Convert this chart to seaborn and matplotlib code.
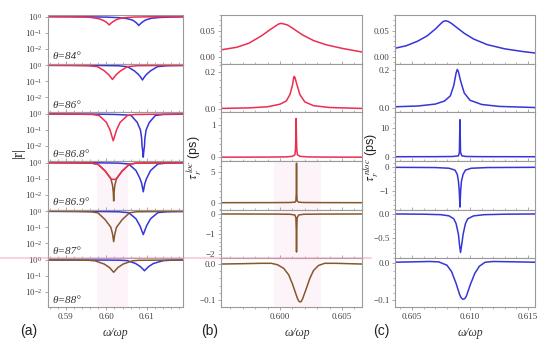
import matplotlib
matplotlib.use("Agg")
import matplotlib.pyplot as plt
from matplotlib.lines import Line2D
from matplotlib.ticker import (AutoMinorLocator, FixedLocator, FuncFormatter,
                               MultipleLocator, NullLocator)
import seaborn as sns

RED, BLUE, BROWN = "#ee2c50", "#3535d8", "#86572b"
SPINE = "#9a9a9a"
SHADE = "#fdf4fa"

# ─── Column (a): |r| on a log axis ────────────────────────────────────────────
THETAS = ["84", "86", "86.8", "86.9", "87", "88"]

a1_red_x = [0.5856, 0.590, 0.594, 0.596, 0.598, 0.599, 0.600, 0.6004, 0.6007, 0.6010, 0.6016, 0.6025, 0.6035, 0.605, 0.607, 0.610, 0.6189]
a1_red_y = [1.0, 0.99, 0.96, 0.90, 0.75, 0.62, 0.45, 0.36, 0.30, 0.36, 0.48, 0.65, 0.78, 0.88, 0.94, 0.97, 0.99]
a1_blue_x = [0.5856, 0.595, 0.600, 0.603, 0.605, 0.6065, 0.6073, 0.6077, 0.6080, 0.6083, 0.6089, 0.6097, 0.611, 0.613, 0.616, 0.6189]
a1_blue_y = [0.99, 0.97, 0.93, 0.86, 0.76, 0.60, 0.43, 0.34, 0.28, 0.34, 0.46, 0.62, 0.78, 0.88, 0.94, 0.97]

a2_red_x = [0.5856, 0.592, 0.5955, 0.5978, 0.5995, 0.6005, 0.6010, 0.6015, 0.6020, 0.6025, 0.6035, 0.6052, 0.6075, 0.6189]
a2_red_y = [1.0, 0.98, 0.94, 0.82, 0.45, 0.27, 0.19, 0.13, 0.19, 0.27, 0.45, 0.82, 0.94, 0.99]
a2_blue_x = [0.5856, 0.598, 0.603, 0.6052, 0.6069, 0.6079, 0.6084, 0.6089, 0.6094, 0.6099, 0.6109, 0.6126, 0.615, 0.6189]
a2_blue_y = [0.99, 0.97, 0.93, 0.82, 0.45, 0.27, 0.19, 0.12, 0.19, 0.27, 0.45, 0.82, 0.94, 0.97]

a3_red_x = [0.5856, 0.592, 0.5965, 0.5982, 0.6000, 0.6009, 0.6013, 0.6017, 0.6021, 0.6025, 0.6034, 0.6052, 0.607, 0.6189]
a3_red_y = [1.0, 0.98, 0.93, 0.80, 0.30, 0.10, 0.045, 0.021, 0.045, 0.10, 0.30, 0.80, 0.93, 0.99]
a3_blue_x = [0.5856, 0.598, 0.602, 0.605, 0.6061, 0.6076, 0.6084, 0.6087, 0.6088, 0.6090, 0.6091, 0.6092, 0.6094, 0.6095, 0.6098, 0.6106, 0.6121, 0.614, 0.6189]
a3_blue_y = [0.99, 0.97, 0.93, 0.86, 0.80, 0.30, 0.10, 0.03, 0.01, 0.004, 0.002, 0.004, 0.01, 0.03, 0.10, 0.30, 0.80, 0.93, 0.97]

a4_red_x = [0.5856, 0.592, 0.5962, 0.5979, 0.5997, 0.6011, 0.6015, 0.6017, 0.6018, 0.6019, 0.6021, 0.6025, 0.6039, 0.6057, 0.6074, 0.6189]
a4_red_y = [1.0, 0.98, 0.93, 0.80, 0.30, 0.10, 0.04, 0.015, 0.004, 0.015, 0.04, 0.10, 0.30, 0.80, 0.93, 0.99]
a4_blue_x = [0.5856, 0.598, 0.603, 0.6055, 0.6073, 0.6083, 0.6087, 0.6089, 0.6091, 0.6093, 0.6095, 0.6099, 0.6109, 0.6127, 0.615, 0.6189]
a4_blue_y = [0.99, 0.97, 0.93, 0.82, 0.32, 0.10, 0.05, 0.028, 0.015, 0.028, 0.05, 0.10, 0.32, 0.82, 0.94, 0.97]

a5_red_x = [0.5856, 0.592, 0.5962, 0.5979, 0.5997, 0.6011, 0.6015, 0.6018, 0.6021, 0.6025, 0.6039, 0.6057, 0.6074, 0.6189]
a5_red_y = [1.0, 0.98, 0.93, 0.80, 0.30, 0.10, 0.04, 0.0126, 0.04, 0.10, 0.30, 0.80, 0.93, 0.99]
a5_blue_x = [0.5856, 0.598, 0.603, 0.6055, 0.6073, 0.6083, 0.6087, 0.6091, 0.6095, 0.6099, 0.6109, 0.6127, 0.615, 0.6189]
a5_blue_y = [0.99, 0.97, 0.93, 0.82, 0.34, 0.12, 0.065, 0.035, 0.065, 0.12, 0.34, 0.82, 0.94, 0.97]

a6_red_x = [0.5856, 0.592, 0.5955, 0.5972, 0.5995, 0.6008, 0.6014, 0.6018, 0.6022, 0.6028, 0.6041, 0.6064, 0.608, 0.6189]
a6_red_y = [1.0, 0.98, 0.95, 0.88, 0.55, 0.33, 0.22, 0.17, 0.22, 0.33, 0.55, 0.88, 0.95, 0.99]
a6_blue_x = [0.5856, 0.600, 0.6035, 0.6052, 0.6072, 0.6084, 0.6090, 0.6094, 0.6098, 0.6104, 0.6116, 0.6140, 0.6160, 0.6189]
a6_blue_y = [0.99, 0.98, 0.96, 0.90, 0.60, 0.38, 0.27, 0.21, 0.27, 0.38, 0.60, 0.90, 0.96, 0.98]

# ─── Column (b): tau_r^loc (ps) ───────────────────────────────────────────────
b1_x = [0.5952, 0.5965, 0.5975, 0.5985, 0.5992, 0.5997, 0.5999, 0.6001, 0.6003, 0.6006, 0.6010, 0.6018, 0.6027, 0.6037, 0.6050, 0.6066]
b1_y = [0.013, 0.018, 0.026, 0.040, 0.052, 0.060, 0.063, 0.064, 0.063, 0.061, 0.055, 0.042, 0.031, 0.023, 0.016, 0.009]
b2_x = [0.5952, 0.5975, 0.5990, 0.6000, 0.6005, 0.6008, 0.6010, 0.6011, 0.60115, 0.6012, 0.6014, 0.6016, 0.6020, 0.6027, 0.6040, 0.6066]
b2_y = [0.005, 0.008, 0.014, 0.028, 0.045, 0.080, 0.130, 0.170, 0.178, 0.172, 0.125, 0.080, 0.040, 0.020, 0.010, 0.005]
b3_x = [0.5952, 0.5990, 0.6005, 0.6010, 0.6012, 0.60125, 0.60128, 0.60130, 0.60132, 0.60135, 0.6014, 0.6016, 0.6022, 0.6035, 0.6066]
b3_y = [0.003, 0.006, 0.012, 0.030, 0.08, 0.25, 0.7, 1.2, 0.7, 0.25, 0.08, 0.03, 0.012, 0.006, 0.003]
b4_x = [0.5952, 0.5995, 0.6008, 0.6012, 0.60128, 0.60131, 0.60133, 0.60135, 0.60138, 0.6015, 0.6019, 0.6035, 0.6066]
b4_y = [0.0, 0.01, 0.03, 0.08, 0.3, 1.5, 6.5, 1.5, 0.3, 0.08, 0.03, 0.01, 0.0]
b5_x = [0.5952, 0.5995, 0.6008, 0.6012, 0.60128, 0.60131, 0.60133, 0.60135, 0.60138, 0.6015, 0.6019, 0.6035, 0.6066]
b5_y = [0.0, -0.005, -0.015, -0.05, -0.2, -0.8, -1.9, -0.8, -0.2, -0.05, -0.015, -0.005, 0.0]
b6_x = [0.5952, 0.5970, 0.5985, 0.5993, 0.5998, 0.6003, 0.6007, 0.6010, 0.6013, 0.6014, 0.6015, 0.6016, 0.6017, 0.6018, 0.6021, 0.6024, 0.6027, 0.6031, 0.6036, 0.6045, 0.6066]
b6_y = [0.000, 0.001, 0.002, 0.002, -0.002, -0.012, -0.030, -0.055, -0.085, -0.095, -0.102, -0.105, -0.104, -0.098, -0.070, -0.040, -0.018, -0.004, 0.002, 0.002, 0.000]

# ─── Column (c): tau_r^nloc (ps) ──────────────────────────────────────────────
c1_x = [0.6035, 0.6045, 0.6055, 0.6063, 0.6070, 0.6075, 0.6077, 0.6079, 0.6081, 0.6084, 0.6088, 0.6095, 0.6103, 0.6115, 0.6130, 0.6145, 0.6156]
c1_y = [0.016, 0.021, 0.030, 0.040, 0.053, 0.064, 0.068, 0.069, 0.068, 0.064, 0.057, 0.045, 0.034, 0.023, 0.015, 0.010, 0.007]
c2_x = [0.6035, 0.6055, 0.6070, 0.6078, 0.6083, 0.6086, 0.6088, 0.6089, 0.6090, 0.6092, 0.6095, 0.6100, 0.6110, 0.6125, 0.6156]
c2_y = [0.008, 0.012, 0.022, 0.038, 0.065, 0.120, 0.185, 0.203, 0.190, 0.140, 0.080, 0.042, 0.020, 0.010, 0.004]
c3_x = [0.6035, 0.6070, 0.6085, 0.6090, 0.60908, 0.60913, 0.60918, 0.6093, 0.6097, 0.6110, 0.6156]
c3_y = [0.0, 0.02, 0.08, 0.3, 1.5, 13.0, 1.5, 0.3, 0.08, 0.02, 0.0]
c4_x = [0.6035, 0.6070, 0.6082, 0.6087, 0.6089, 0.6090, 0.60907, 0.60913, 0.60919, 0.60926, 0.6094, 0.6096, 0.6101, 0.6115, 0.6156]
c4_y = [0.0, -0.01, -0.04, -0.12, -0.3, -0.6, -1.0, -1.7, -1.0, -0.6, -0.3, -0.12, -0.04, -0.01, 0.0]
c5_x = [0.6035, 0.6060, 0.6075, 0.6082, 0.6086, 0.6088, 0.6090, 0.6091, 0.60918, 0.6093, 0.6094, 0.6096, 0.6098, 0.6103, 0.6112, 0.6130, 0.6156]
c5_y = [0.0, -0.005, -0.015, -0.04, -0.1, -0.2, -0.42, -0.65, -0.79, -0.6, -0.42, -0.2, -0.1, -0.04, -0.015, -0.005, 0.0]
c6_x = [0.6035, 0.6050, 0.6065, 0.6073, 0.6080, 0.6084, 0.6088, 0.6091, 0.6092, 0.6093, 0.6094, 0.6095, 0.6096, 0.6097, 0.6100, 0.6104, 0.6108, 0.6113, 0.6120, 0.6140, 0.6156]
c6_y = [0.003, 0.004, 0.005, 0.004, -0.005, -0.022, -0.055, -0.085, -0.092, -0.096, -0.098, -0.097, -0.094, -0.088, -0.060, -0.028, -0.008, 0.003, 0.005, 0.004, 0.003]

A_CURVES = [(a1_red_x, a1_red_y, a1_blue_x, a1_blue_y), (a2_red_x, a2_red_y, a2_blue_x, a2_blue_y),
            (a3_red_x, a3_red_y, a3_blue_x, a3_blue_y), (a4_red_x, a4_red_y, a4_blue_x, a4_blue_y),
            (a5_red_x, a5_red_y, a5_blue_x, a5_blue_y), (a6_red_x, a6_red_y, a6_blue_x, a6_blue_y)]
B_CURVES = [(b1_x, b1_y), (b2_x, b2_y), (b3_x, b3_y), (b4_x, b4_y), (b5_x, b5_y), (b6_x, b6_y)]
C_CURVES = [(c1_x, c1_y), (c2_x, c2_y), (c3_x, c3_y), (c4_x, c4_y), (c5_x, c5_y), (c6_x, c6_y)]

B_YLIM = [(-0.0135, 0.0802), (-0.016, 0.2465), (-0.115, 1.39), (-1.15, 6.86), (-2.215, 0.215), (-0.119, 0.0158)]
C_YLIM = [(-0.0135, 0.0802), (-0.021, 0.233), (-1.5, 15.6), (-1.81, 0.27), (-0.91, 0.088), (-0.119, 0.0136)]
B_STEP = [(0.05, 2), (0.2, 1), (1, 0), (5, 0), (1, 0), (0.1, 1)]
C_STEP = [(0.05, 2), (0.2, 1), (10, 0), (1, 0), (0.5, 1), (0.1, 1)]

# ─── Style ────────────────────────────────────────────────────────────────────
sns.set_theme(style="ticks")
plt.rcParams.update({
    "font.family": ["Liberation Serif", "DejaVu Serif"],
    "mathtext.fontset": "stix",
    "axes.edgecolor": SPINE,
    "axes.linewidth": 0.8,
    "xtick.color": SPINE, "ytick.color": SPINE,
    "xtick.labelcolor": "#444", "ytick.labelcolor": "#444",
    "xtick.labelsize": 6.5, "ytick.labelsize": 6.5,
    "xtick.major.size": 2.5, "ytick.major.size": 2.5,
    "xtick.minor.size": 1.3, "ytick.minor.size": 1.3,
    "xtick.major.width": 0.6, "ytick.major.width": 0.6,
    "xtick.minor.width": 0.5, "ytick.minor.width": 0.5,
    "xtick.major.pad": 2, "ytick.major.pad": 1.5,
})


def _fmt(dec):
    def f(v, _):
        s = f"{v:.{dec}f}"
        if float(s) == 0:
            s = s.lstrip("-")
        return s.replace("-", "\u2212")
    return FuncFormatter(f)


def _column(fig, left, right):
    gs = fig.add_gridspec(6, 1, left=left, right=right, top=1 - 15 / 344,
                          bottom=1 - 307 / 344, hspace=0)
    return [fig.add_subplot(gs[i]) for i in range(6)]


def _xaxis(ax, last, xlim, major, dec):
    ax.set_xlim(*xlim)
    ax.xaxis.set_major_locator(MultipleLocator(major))
    ax.xaxis.set_minor_locator(AutoMinorLocator(5))
    ax.xaxis.set_major_formatter(_fmt(dec))
    if not last:
        ax.tick_params(axis="x", which="both", direction="in", labelbottom=False)
    ax.set_xlabel(""); ax.set_ylabel("")


fig = plt.figure(figsize=(5.5, 3.44), dpi=100)
axes_a = _column(fig, 48 / 550, 183 / 550)
axes_b = _column(fig, 221 / 550, 362 / 550)
axes_c = _column(fig, 395 / 550, 535 / 550)

# (a) reflectance panels
for i, (ax, (rx, ry, bx, by)) in enumerate(zip(axes_a, A_CURVES)):
    if i >= 3:
        ax.axvspan(0.5978, 0.6054, color=SHADE, lw=0, zorder=0)
    rcol = RED if i < 3 else BROWN
    sns.lineplot(x=bx, y=by, ax=ax, color=BLUE, lw=1.1, errorbar=None)
    sns.lineplot(x=rx, y=ry, ax=ax, color=rcol, lw=1.1, errorbar=None)
    if i == 3:
        sns.lineplot(x=rx, y=[max(v, 0.09) for v in ry], ax=ax, color=RED, lw=1.1, errorbar=None)
    ax.set_yscale("log")
    ax.set_ylim(1.15e-3, 1.26)
    ax.yaxis.set_major_locator(FixedLocator([1e-2, 1e-1, 1e0]))
    ax.yaxis.set_minor_locator(NullLocator())
    ax.text(0.03, 0.09, f"θ={THETAS[i]}°", transform=ax.transAxes, fontsize=8,
            style="italic", color="#333")
    _xaxis(ax, i == 5, (0.5856, 0.6189), 0.01, 2)

# (b), (c) delay panels
for axes, curves, ylims, steps, col, span in [
        (axes_b, B_CURVES, B_YLIM, B_STEP, RED, (0.5995, 0.6033)),
        (axes_c, C_CURVES, C_YLIM, C_STEP, BLUE, None)]:
    for i, ax in enumerate(axes):
        x, y = curves[i]
        color = col if (col == BLUE or i < 3) else BROWN
        if span and i >= 3:
            ax.axvspan(*span, color=SHADE, lw=0, zorder=0)
        sns.lineplot(x=x, y=y, ax=ax, color=color, lw=1.1, errorbar=None)
        ax.set_ylim(*ylims[i])
        ax.yaxis.set_major_locator(MultipleLocator(steps[i][0]))
        ax.yaxis.set_minor_locator(AutoMinorLocator(5))
        ax.yaxis.set_major_formatter(_fmt(steps[i][1]))
        if col == RED:
            _xaxis(ax, i == 5, (0.59524, 0.60661), 0.005, 3)
        else:
            _xaxis(ax, i == 5, (0.60353, 0.6156), 0.005, 3)

# pink highlight stripe running across the figure
yline = 1 - 258.3 / 344
fig.add_artist(Line2D([0, 0.675], [yline, yline], transform=fig.transFigure,
                      color="#f29bb8", lw=1.5, alpha=0.45))

# axis titles and panel letters
fig.text(18 / 550, 1 - 152 / 344, "|r|", rotation=90, ha="center", va="center",
         fontsize=11, color="#222")
fig.text(194 / 550, 1 - 158 / 344, r"$\tau_r^{\,loc}$ (ps)", rotation=90,
         ha="center", va="center", fontsize=9, color="#222", family="Liberation Sans")
fig.text(371 / 550, 1 - 158 / 344, r"$\tau_r^{\,nloc}$ (ps)", rotation=90,
         ha="center", va="center", fontsize=9, color="#222", family="Liberation Sans")
for xc, lab in [(115, "ω/ωp"), (297, "ω/ωp"), (470, "ω/ωp")]:
    fig.text(xc / 550, 1 - 333 / 344, lab, ha="center", va="center",
             fontsize=8.5, style="italic", color="#333")
for xc, lab in [(29, "(a)"), (210, "(b)"), (381, "(c)")]:
    fig.text(xc / 550, 1 - 331 / 344, lab, ha="center", va="center",
             fontsize=10, family="Liberation Sans", color="#222")

fig.savefig("out.png", dpi=100)
